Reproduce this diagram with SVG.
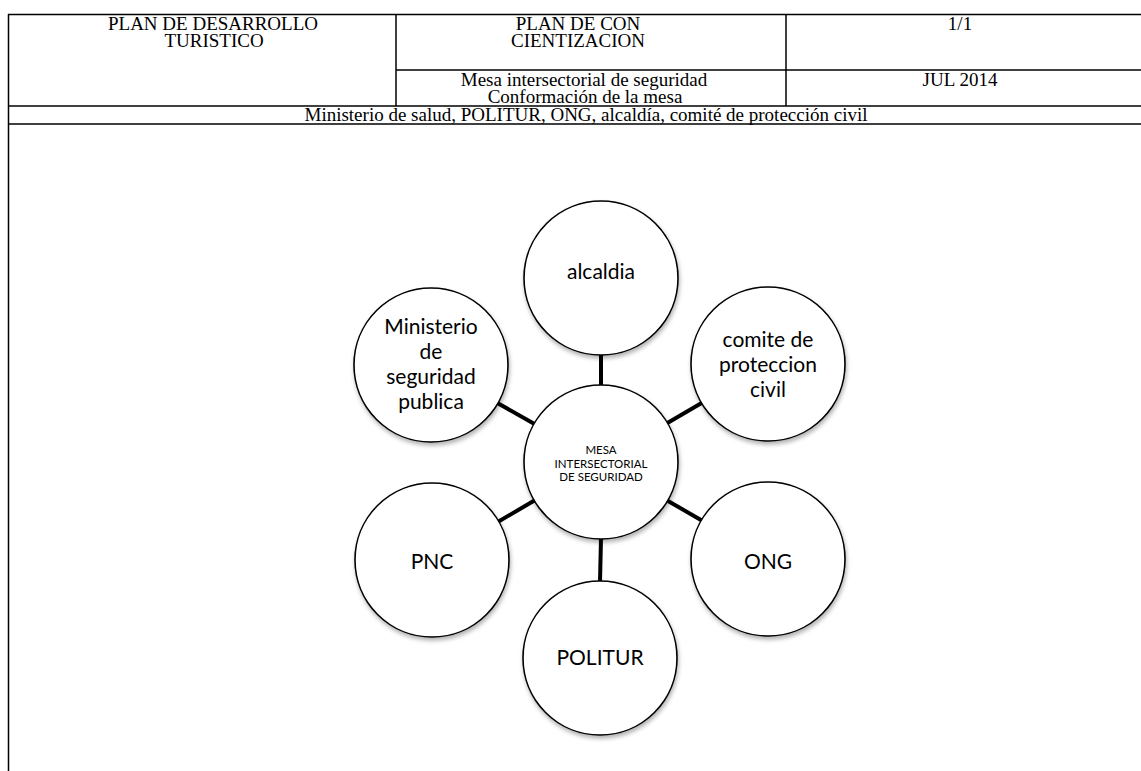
<svg xmlns="http://www.w3.org/2000/svg" width="1141" height="771" viewBox="0 0 1141 771">
<style>
.tl{stroke:#000;stroke-width:1.5;fill:none}
.tt{font-family:"Liberation Serif","Times New Roman",serif;font-size:19px;fill:#000;text-anchor:middle}
.nd{fill:#fff;stroke:#000;stroke-width:1.6}
.nt{font-family:Lato,"Open Sans",sans-serif;font-size:21px;fill:#000;text-anchor:middle}
.ct{font-family:Lato,"Open Sans",sans-serif;font-size:11.5px;fill:#000;text-anchor:middle}
.cn{stroke:#000;stroke-width:4;fill:none}
</style>
<defs>
<filter id="sh" x="-20%" y="-20%" width="140%" height="150%">
<feDropShadow dx="1" dy="3" stdDeviation="2" flood-color="#000" flood-opacity="0.3"/>
</filter>
</defs>
<rect width="1141" height="771" fill="#fff"/>
<g id="table">
<line class="tl" x1="8" y1="14.5" x2="1141" y2="14.5"/>
<line class="tl" x1="396" y1="70" x2="1141" y2="70"/>
<line class="tl" x1="8" y1="106" x2="1141" y2="106"/>
<line class="tl" x1="8" y1="124" x2="1141" y2="124"/>
<line class="tl" x1="8.5" y1="14" x2="8.5" y2="771"/>
<line class="tl" x1="396" y1="14" x2="396" y2="106"/>
<line class="tl" x1="786" y1="14" x2="786" y2="106"/>
<text class="tt" x="213" y="30">PLAN DE DESARROLLO</text>
<text class="tt" x="214" y="47">TURISTICO</text>
<text class="tt" x="578" y="30">PLAN DE CON</text>
<text class="tt" x="578" y="47">CIENTIZACION</text>
<text class="tt" x="960" y="30">1/1</text>
<text class="tt" x="584" y="86">Mesa intersectorial de seguridad</text>
<text class="tt" x="585" y="102.5">Conformación de la mesa</text>
<text class="tt" x="960" y="86">JUL 2014</text>
<text class="tt" x="586" y="120.5">Ministerio de salud, POLITUR, ONG, alcaldía, comité de protección civil</text>
</g>
<g id="connectors">
<line class="cn" x1="601" y1="355" x2="601" y2="386"/>
<line class="cn" x1="667.4" y1="423" x2="701.6" y2="403"/>
<line class="cn" x1="667.6" y1="500.7" x2="701.4" y2="520.3"/>
<line class="cn" x1="601" y1="538" x2="600" y2="582"/>
<line class="cn" x1="534.4" y1="500.6" x2="498.6" y2="521.4"/>
<line class="cn" x1="534.1" y1="423.8" x2="497.9" y2="403.2"/>
</g>
<g id="center">
<circle class="nd" cx="601" cy="462" r="77" filter="url(#sh)"/>
<text class="ct" x="601" y="454">MESA</text>
<text class="ct" x="601" y="467.5">INTERSECTORIAL</text>
<text class="ct" x="601" y="481">DE SEGURIDAD</text>
</g>
<g id="alcaldia">
<circle class="nd" cx="601" cy="278" r="77" filter="url(#sh)"/>
<text class="nt" x="601" y="279">alcaldia</text>
</g>
<g id="comite">
<circle class="nd" cx="768" cy="364" r="77" filter="url(#sh)"/>
<text class="nt" x="768" y="347">comite de</text>
<text class="nt" x="768" y="372">proteccion</text>
<text class="nt" x="768" y="397">civil</text>
</g>
<g id="ong">
<circle class="nd" cx="768" cy="559" r="77" filter="url(#sh)"/>
<text class="nt" x="768" y="569">ONG</text>
</g>
<g id="politur">
<circle class="nd" cx="600" cy="658" r="77" filter="url(#sh)"/>
<text class="nt" x="600" y="665">POLITUR</text>
</g>
<g id="pnc">
<circle class="nd" cx="432" cy="560" r="77" filter="url(#sh)"/>
<text class="nt" x="432" y="569">PNC</text>
</g>
<g id="ministerio">
<circle class="nd" cx="431" cy="365" r="77" filter="url(#sh)"/>
<text class="nt" x="431" y="334">Ministerio</text>
<text class="nt" x="431" y="359">de</text>
<text class="nt" x="431" y="384">seguridad</text>
<text class="nt" x="431" y="409">publica</text>
</g>
</svg>
